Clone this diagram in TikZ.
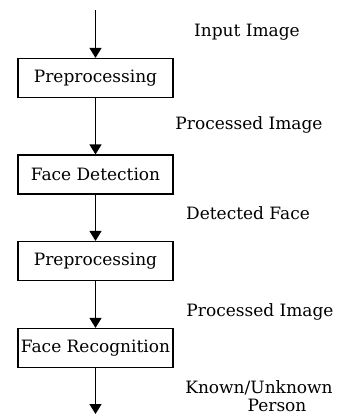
\documentclass[tikz,border=0pt]{standalone}
\usepackage{fontspec}
\setmainfont{DejaVu Serif}
\usetikzlibrary{arrows.meta}
\begin{document}
\begin{tikzpicture}[x=1pt,y=-1pt,
  stepbox/.style={draw,line width=1.2pt,minimum width=155pt,minimum height=39pt,inner sep=0pt,font=\fontsize{17}{20}\selectfont},
  lbl/.style={font=\fontsize{17}{20}\selectfont,inner sep=0pt},
  flow/.style={line width=1.3pt,-{Triangle[width=12pt,length=10pt]}}]
\useasboundingbox (0,0) rectangle (339,415);
\fill[white] (0,0) rectangle (339,415);
\coordinate (top) at (95.5,10);
\coordinate (bot) at (95.5,414);
\node[stepbox] (b1) at (95.5,78) {Preprocessing};
\node[stepbox] (b2) at (95.5,174.5) {Face Detection};
\node[stepbox] (b3) at (95.5,261) {Preprocessing};
\node[stepbox] (b4) at (95.5,348) {Face Recognition};
\draw[flow] (top) -- (b1.north);
\draw[flow] (b1.south) -- (b2.north);
\draw[flow] (b2.south) -- (b3.north);
\draw[flow] (b3.south) -- (b4.north);
\draw[flow] (b4.south) -- (bot);
\node[lbl] (l1) at (247,32) {Input Image};
\node[lbl] (l2) at (249,125) {Processed Image};
\node[lbl] (l3) at (248,213) {Detected Face};
\node[lbl] (l4) at (260,312) {Processed Image};
\node[lbl] (l5) at (259,388) {Known/Unknown};
\node[lbl] (l6) at (277,405) {Person};
\end{tikzpicture}
\end{document}
